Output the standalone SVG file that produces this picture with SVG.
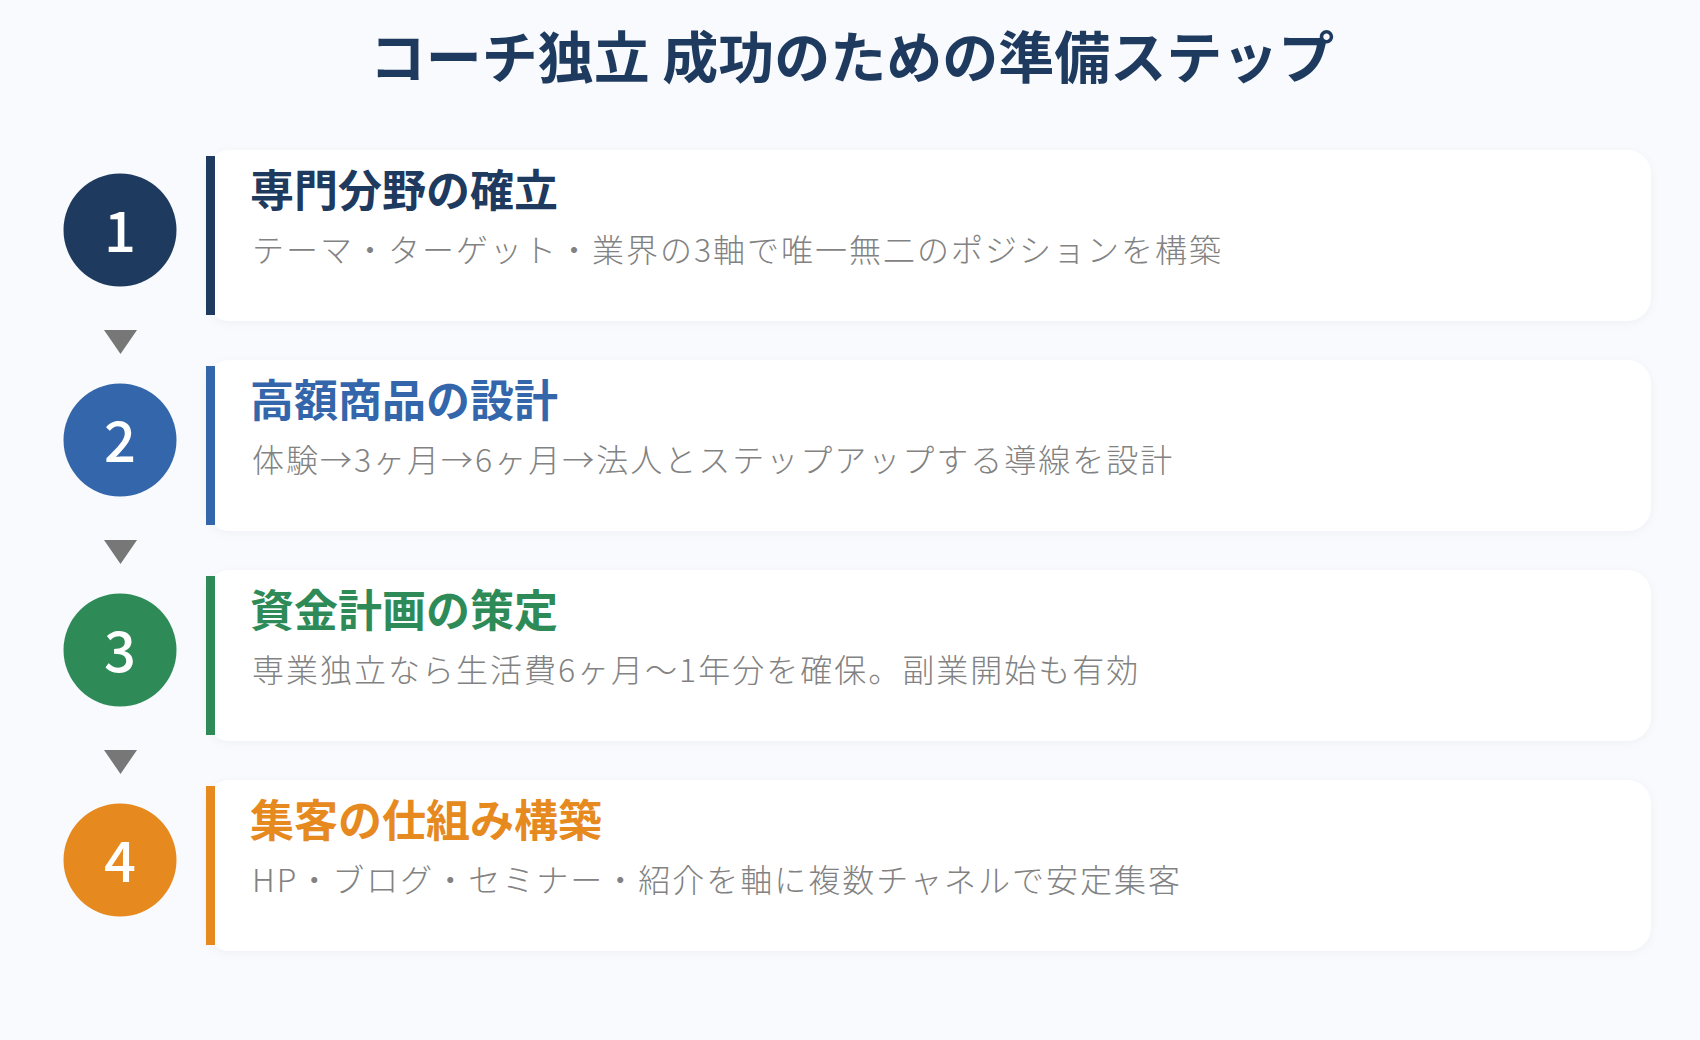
<svg xmlns="http://www.w3.org/2000/svg" width="1700" height="1040" viewBox="0 0 1700 1040">
<style>
.title{font-family:"Noto Sans CJK JP","Noto Sans",sans-serif;font-weight:700;font-size:56px;fill:#1e3a5f;text-anchor:middle}
.card{fill:#ffffff}
.head{font-family:"Noto Sans CJK JP","Noto Sans",sans-serif;font-weight:700;font-size:44px}
.desc{font-family:"Noto Sans CJK JP","Noto Sans",sans-serif;font-weight:300;font-size:32px;fill:#828282;letter-spacing:2px}
.num{font-family:"Noto Sans CJK JP","Noto Sans",sans-serif;font-weight:500;font-size:56px;fill:#ffffff;text-anchor:middle}
.arrow{fill:#777777}
</style>
<defs>
<filter id="sh" x="-5%" y="-20%" width="110%" height="140%">
<feDropShadow dx="0" dy="2" stdDeviation="4" flood-color="#1e3a5f" flood-opacity="0.04"/>
</filter>
</defs>
<rect x="0" y="0" width="1700" height="1040" fill="#f8fafd"/>
<text class="title" x="852" y="78">コーチ独立 成功のための準備ステップ</text>

<g id="connectors">
<polygon class="arrow" points="104,330 137,330 120.5,354"/>
<polygon class="arrow" points="104,540 137,540 120.5,564"/>
<polygon class="arrow" points="104,750 137,750 120.5,774"/>
</g>

<g id="step1">
<rect class="card" x="206" y="150" width="1445" height="171" rx="24" filter="url(#sh)"/>
<rect x="206" y="156" width="9" height="159" fill="#1e3a5f"/>
<circle cx="120" cy="230" r="56.5" fill="#1e3a5f"/>
<text class="num" x="120" y="252">1</text>
<text class="head" x="250" y="207" fill="#1e3a5f">専門分野の確立</text>
<text class="desc" x="252" y="262">テーマ・ターゲット・業界の3軸で唯一無二のポジションを構築</text>
</g>

<g id="step2">
<rect class="card" x="206" y="360" width="1445" height="171" rx="24" filter="url(#sh)"/>
<rect x="206" y="366" width="9" height="159" fill="#3466ab"/>
<circle cx="120" cy="440" r="56.5" fill="#3466ab"/>
<text class="num" x="120" y="462">2</text>
<text class="head" x="250" y="417" fill="#3466ab">高額商品の設計</text>
<text class="desc" x="252" y="472">体験→3ヶ月→6ヶ月→法人とステップアップする導線を設計</text>
</g>

<g id="step3">
<rect class="card" x="206" y="570" width="1445" height="171" rx="24" filter="url(#sh)"/>
<rect x="206" y="576" width="9" height="159" fill="#2e8b57"/>
<circle cx="120" cy="650" r="56.5" fill="#2e8b57"/>
<text class="num" x="120" y="672">3</text>
<text class="head" x="250" y="627" fill="#2e8b57">資金計画の策定</text>
<text class="desc" x="252" y="682">専業独立なら生活費6ヶ月～1年分を確保。副業開始も有効</text>
</g>

<g id="step4">
<rect class="card" x="206" y="780" width="1445" height="171" rx="24" filter="url(#sh)"/>
<rect x="206" y="786" width="9" height="159" fill="#e68a1f"/>
<circle cx="120" cy="860" r="56.5" fill="#e68a1f"/>
<text class="num" x="120" y="882">4</text>
<text class="head" x="250" y="837" fill="#e68a1f">集客の仕組み構築</text>
<text class="desc" x="252" y="892">HP・ブログ・セミナー・紹介を軸に複数チャネルで安定集客</text>
</g>
</svg>
